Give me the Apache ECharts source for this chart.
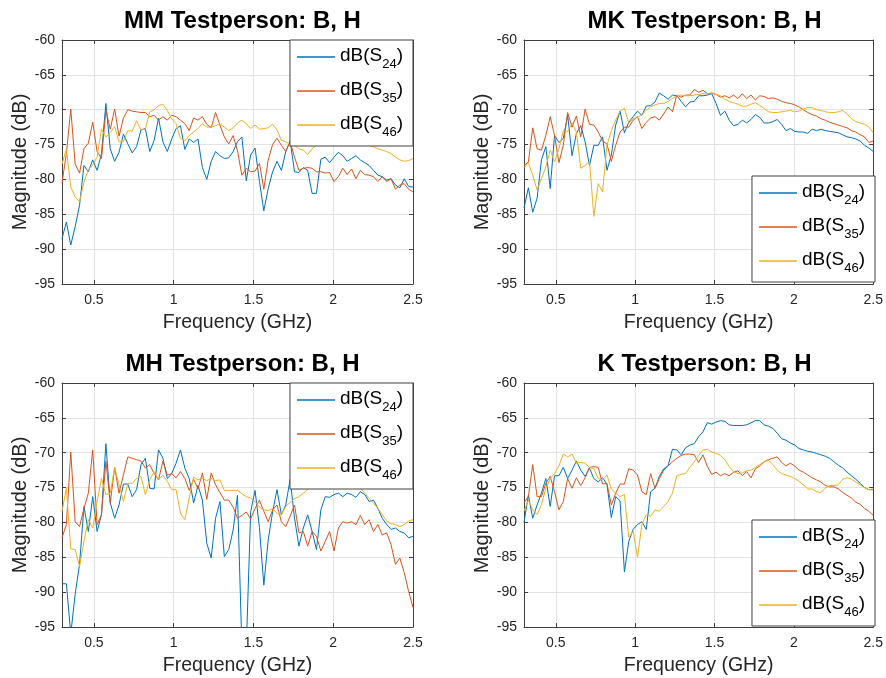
<!DOCTYPE html>
<html>
<head>
<meta charset="utf-8">
<script src="https://cdn.jsdelivr.net/npm/echarts@6/dist/echarts.min.js"></script>
<style>
  html, body { margin: 0; padding: 0; background: #fff; }
  #chart { width: 886px; height: 678px; }
</style>
</head>
<body>
<div id="chart"></div>
<script>
// Frequency sweep shared by all measurements (GHz)
const freqGHz = [
  0.3000, 0.3275, 0.3550, 0.3825, 0.4100, 0.4375, 0.4650, 0.4925, 0.5200, 0.5475,
  0.5750, 0.6025, 0.6300, 0.6575, 0.6850, 0.7125, 0.7400, 0.7675, 0.7950, 0.8225,
  0.8500, 0.8775, 0.9050, 0.9325, 0.9600, 0.9875, 1.0150, 1.0425, 1.0700, 1.0975,
  1.1250, 1.1525, 1.1800, 1.2075, 1.2350, 1.2625, 1.2900, 1.3175, 1.3450, 1.3725,
  1.4000, 1.4275, 1.4550, 1.4825, 1.5100, 1.5375, 1.5650, 1.5925, 1.6200, 1.6475,
  1.6750, 1.7025, 1.7300, 1.7575, 1.7850, 1.8125, 1.8400, 1.8675, 1.8950, 1.9225,
  1.9500, 1.9775, 2.0050, 2.0325, 2.0600, 2.0875, 2.1150, 2.1425, 2.1700, 2.1975,
  2.2250, 2.2525, 2.2800, 2.3075, 2.3350, 2.3625, 2.3900, 2.4175, 2.4450, 2.4725,
  2.5000
];

// MM test person, |S| in dB
const mmS24 = [
  -88.5, -86.1, -89.4, -86.8, -83.7, -78.0, -78.9, -77.2, -78.7, -76.3,
  -69.1, -75.6, -77.4, -76.1, -73.5, -74.9, -76.2, -75.3, -72.9, -72.7,
  -76.0, -74.4, -71.2, -74.6, -76.0, -74.2, -72.7, -72.3, -75.7, -74.2,
  -74.7, -74.2, -78.3, -80.0, -77.4, -76.0, -76.6, -77.0, -76.9, -76.0,
  -74.6, -73.9, -80.2, -76.5, -75.5, -80.3, -84.5, -81.3, -78.9, -77.4,
  -78.7, -76.0, -74.5, -78.9, -79.0, -78.3, -78.7, -82.0, -82.0, -77.1,
  -76.8, -77.6, -76.8, -76.1, -76.6, -77.4, -77.0, -76.6, -77.2, -77.6,
  -78.0, -78.7, -79.4, -79.6, -80.1, -79.9, -80.8, -81.2, -79.9, -81.0,
  -81.1
];
const mmS35 = [
  -80.5, -76.3, -69.9, -77.8, -79.1, -75.6, -74.8, -71.8, -76.0, -77.0,
  -70.1, -72.8, -69.9, -73.8, -71.2, -70.0, -70.2, -70.3, -70.4, -70.4,
  -71.0, -70.8, -71.5, -71.0, -71.5, -70.8, -71.0, -71.5, -72.0, -73.0,
  -71.2, -71.5, -71.0, -72.1, -72.6, -70.4, -72.2, -73.9, -74.9, -73.7,
  -75.9, -79.4, -78.4, -78.9, -78.8, -77.7, -81.4, -77.2, -75.0, -74.1,
  -75.1, -76.0, -74.6, -76.8, -78.7, -78.4, -78.3, -78.4, -78.9, -78.9,
  -79.1, -79.0, -80.3, -79.6, -78.4, -79.3, -78.5, -79.9, -78.7, -79.3,
  -79.4, -79.6, -80.3, -79.6, -80.3, -79.9, -81.4, -80.8, -80.6, -81.4,
  -81.8
];
const mmS46 = [
  -77.8, -75.6, -81.1, -82.5, -83.2, -80.4, -78.6, -77.9, -76.8, -72.8,
  -73.9, -73.3, -72.4, -74.6, -74.6, -73.0, -73.1, -71.6, -72.9, -72.8,
  -70.3, -70.0, -69.4, -69.2, -70.1, -71.3, -72.0, -74.1, -74.5, -73.7,
  -73.2, -72.7, -72.0, -72.5, -72.5, -72.3, -72.0, -72.5, -73.0, -72.6,
  -71.9, -71.5, -72.0, -72.7, -72.2, -72.8, -72.7, -72.6, -72.1, -72.9,
  -74.4, -74.6, -75.1, -75.1, -75.6, -75.8, -76.4, -75.6, -75.1, -74.6,
  -74.4, -75.1, -75.1, -74.6, -74.2, -74.6, -74.9, -74.5, -74.7, -74.9,
  -75.1, -75.3, -75.6, -75.8, -76.0, -76.3, -76.8, -77.2, -77.4, -77.3,
  -77.0
];

// MK test person
const mkS24 = [
  -84.1, -81.2, -84.7, -82.7, -77.2, -75.3, -81.3, -73.7, -74.7, -74.1,
  -70.8, -76.6, -73.4, -72.3, -74.6, -78.0, -75.1, -75.1, -73.9, -78.7,
  -76.5, -72.2, -70.2, -73.3, -71.8, -71.0, -70.2, -70.8, -69.5, -69.4,
  -68.9, -67.6, -68.0, -68.5, -67.9, -68.0, -68.8, -69.6, -68.9, -68.8,
  -68.0, -68.0, -67.9, -67.7, -69.1, -70.8, -70.2, -71.5, -72.3, -72.1,
  -71.5, -71.9, -71.4, -70.7, -71.1, -71.9, -71.9, -71.7, -71.4, -72.1,
  -73.0, -72.7, -73.1, -73.2, -73.2, -73.4, -72.8, -73.0, -72.8, -73.0,
  -73.1, -73.2, -73.3, -73.6, -73.9, -74.0, -74.2, -74.5, -75.1, -75.5,
  -76.0
];
const mkS35 = [
  -78.0, -77.5, -72.6, -75.6, -75.8, -73.7, -71.0, -73.7, -77.6, -75.1,
  -70.4, -72.5, -70.9, -73.9, -69.9, -72.1, -72.2, -73.2, -74.5, -74.9,
  -77.4, -75.1, -73.2, -72.5, -72.5, -71.5, -71.0, -72.7, -71.8, -71.2,
  -71.0, -71.5, -70.6, -69.6, -70.3, -67.9, -68.2, -67.9, -67.9, -67.1,
  -67.5, -67.2, -67.7, -67.6, -67.8, -68.2, -68.0, -68.3, -67.9, -68.4,
  -67.7, -68.4, -67.9, -68.6, -68.0, -68.1, -68.4, -68.3, -68.5, -68.8,
  -69.0, -69.1, -69.3, -69.6, -70.0, -70.4, -70.7, -70.9, -71.3, -71.5,
  -71.8, -72.0, -72.2, -72.4, -72.6, -73.0, -73.2, -73.6, -73.9, -74.7,
  -74.5
];
const mkS46 = [
  -78.3, -77.6, -79.4, -81.5, -79.9, -78.2, -75.8, -77.5, -75.6, -73.0,
  -73.2, -71.9, -73.2, -78.4, -78.0, -77.4, -85.3, -80.6, -81.8, -75.1,
  -73.0, -71.5, -70.2, -69.8, -71.9, -71.3, -71.1, -70.7, -70.1, -69.6,
  -69.3, -69.1, -69.1, -68.8, -68.4, -68.0, -67.9, -68.0, -68.0, -67.9,
  -67.8, -67.7, -67.7, -67.7, -67.8, -68.0, -68.5, -68.8, -69.0, -69.2,
  -69.5, -69.5, -69.2, -69.0, -69.4, -69.8, -70.3, -70.4, -70.4, -70.3,
  -70.2, -70.1, -70.3, -70.2, -69.9, -69.7, -69.7, -70.0, -70.1, -70.3,
  -70.4, -70.4, -70.3, -70.1, -70.6, -71.3, -71.7, -71.9, -72.1, -72.5,
  -73.3
];

// MH test person (values below -95 dB run off the axis)
const mhS24 = [
  -88.8, -88.8, -96.0, -90.3, -86.0, -77.7, -81.3, -76.3, -81.3, -78.9,
  -68.7, -77.2, -79.4, -77.5, -74.5, -74.5, -76.3, -75.3, -71.7, -70.8,
  -75.1, -75.2, -69.6, -70.8, -73.7, -73.0, -71.5, -69.6, -72.2, -73.7,
  -77.2, -74.7, -76.8, -83.0, -85.1, -79.4, -77.0, -84.9, -83.9, -81.1,
  -76.1, -98.0, -98.0, -78.5, -75.4, -80.7, -89.0, -82.5, -78.5, -75.3,
  -78.9, -77.5, -73.8, -79.4, -83.4, -80.8, -78.9, -81.3, -83.9, -78.2,
  -76.3, -76.4, -76.0, -75.8, -76.3, -75.8, -76.0, -76.4, -75.6, -76.0,
  -77.0, -76.8, -78.0, -79.4, -80.3, -81.0, -80.8, -81.3, -81.5, -82.2,
  -82.0
];
const mhS35 = [
  -82.2, -80.3, -69.9, -79.9, -80.6, -78.0, -75.8, -69.6, -80.3, -78.9,
  -71.2, -77.2, -72.1, -75.8, -73.2, -70.6, -70.8, -71.0, -71.2, -72.2,
  -71.7, -73.0, -73.9, -71.2, -73.2, -73.0, -73.6, -72.7, -73.7, -75.4,
  -73.8, -75.2, -72.9, -76.7, -72.9, -74.6, -75.7, -76.8, -76.8, -77.8,
  -79.4, -79.0, -78.5, -79.5, -78.0, -76.8, -78.4, -79.9, -78.2, -77.5,
  -79.9, -80.6, -79.1, -77.5, -81.5, -81.3, -83.4, -81.3, -82.0, -84.1,
  -82.7, -81.3, -84.1, -80.8, -79.9, -80.1, -79.9, -80.3, -79.0, -80.3,
  -79.6, -81.3, -80.3, -81.8, -81.5, -83.2, -86.0, -85.1, -87.2, -89.9,
  -92.2
];
const mhS46 = [
  -78.4, -75.1, -83.8, -83.9, -86.3, -82.7, -79.6, -80.8, -77.0, -73.7,
  -76.0, -75.8, -72.1, -74.6, -77.0, -74.4, -74.4, -73.7, -73.4, -76.0,
  -73.9, -72.7, -73.9, -73.2, -74.1, -75.3, -75.3, -78.7, -79.6, -76.5,
  -73.5, -73.9, -73.7, -74.0, -73.7, -74.0, -73.9, -75.4, -75.4, -75.4,
  -75.4, -75.9, -76.3, -76.5, -77.0, -77.8, -78.2, -78.3, -78.0, -78.7,
  -78.9, -77.7, -77.1, -76.6, -76.3, -75.8, -75.3, -74.6, -74.1, -73.9,
  -73.7, -73.8, -73.9, -73.7, -73.9, -74.1, -74.4, -74.6, -75.1, -75.8,
  -76.6, -77.2, -78.0, -78.9, -79.8, -80.2, -80.3, -80.6, -80.3, -79.8,
  -79.6
];

// K test person
const kS24 = [
  -80.0, -76.1, -79.4, -77.5, -75.8, -73.7, -77.7, -73.3, -73.3, -72.1,
  -73.7, -72.5, -71.2, -72.5, -73.4, -72.2, -73.7, -74.2, -73.6, -74.5,
  -79.3, -76.3, -76.9, -87.1, -82.7, -81.0, -80.3, -79.9, -81.0, -75.6,
  -75.1, -73.4, -72.3, -71.9, -69.5, -69.6, -70.3, -69.3, -68.9, -68.7,
  -67.7, -67.0, -65.7, -65.9, -65.6, -65.4, -65.5, -66.0, -66.1, -66.1,
  -66.1, -66.0, -65.7, -65.4, -65.4, -66.0, -66.2, -66.5, -67.2, -68.0,
  -68.2, -68.6, -68.9, -69.4, -69.6, -69.8, -69.9, -70.1, -70.3, -70.5,
  -70.8, -71.3, -71.8, -72.2, -72.8, -73.3, -73.8, -74.4, -75.0, -75.3,
  -75.3
];
const kS35 = [
  -77.2, -76.3, -71.7, -76.3, -76.3, -74.4, -73.4, -75.6, -78.2, -77.0,
  -73.7, -75.1, -73.6, -74.7, -73.6, -72.1, -72.0, -72.1, -74.5, -74.4,
  -77.5, -75.8, -74.5, -74.5, -72.3, -72.5, -73.2, -75.6, -76.0, -73.0,
  -75.1, -73.7, -72.5, -71.9, -71.3, -70.8, -70.4, -70.2, -70.2, -70.3,
  -71.4, -70.3, -72.0, -73.1, -72.8, -73.3, -73.0, -73.3, -72.8, -72.6,
  -73.3, -72.7, -73.6, -72.3, -71.9, -71.3, -71.0, -70.8, -70.6, -71.4,
  -71.9, -71.5, -71.9, -72.5, -72.8, -73.2, -73.6, -73.9, -74.2, -74.7,
  -74.9, -74.9, -75.2, -75.7, -76.1, -76.5, -77.1, -77.4, -78.0, -78.4,
  -79.0
];
const kS46 = [
  -78.4, -76.8, -78.2, -78.9, -77.4, -75.1, -73.7, -73.0, -71.9, -70.2,
  -70.6, -70.2, -71.5, -71.4, -71.5, -72.1, -72.3, -73.7, -73.9, -73.2,
  -75.2, -75.8, -76.3, -76.0, -82.1, -81.3, -85.0, -80.3, -78.9, -79.1,
  -78.2, -78.4, -77.7, -77.0, -75.8, -73.3, -73.1, -73.0, -72.1, -71.3,
  -70.4, -69.6, -69.5, -69.9, -70.1, -70.4, -71.0, -72.0, -72.7, -73.0,
  -72.9, -72.6, -72.5, -72.1, -71.7, -71.3, -71.1, -71.7, -72.5, -73.0,
  -73.2, -73.4, -73.7, -74.1, -74.6, -75.2, -75.2, -75.6, -75.7, -75.1,
  -74.7, -74.7, -74.6, -73.8, -73.6, -73.8, -74.2, -74.6, -75.0, -75.3,
  -75.2
];

const panelTitles = ['MM Testperson: B, H', 'MK Testperson: B, H', 'MH Testperson: B, H', 'K Testperson: B, H'];
const panelData = [[mmS24, mmS35, mmS46], [mkS24, mkS35, mkS46], [mhS24, mhS35, mhS46], [kS24, kS35, kS46]];
const portPairs = ['24', '35', '46'];
const xTickValues = [0.5, 1, 1.5, 2, 2.5];
const xRange = [0.3, 2.5];
const yRange = [-95, -60];
const xLabelText = 'Frequency (GHz)';
const yLabelText = 'Magnitude (dB)';

// Layout of the 2x2 subplots
const FONT = '"Liberation Sans", Arial, Helvetica, sans-serif';
const INK = '#262626';
const AXIS = '#404040';
const lineColors = ['#0072BD', '#D95319', '#EDB120'];
const panels = [
  { left: 62,  top: 40,  legend: { right: 473, top: 40 } },
  { left: 524, top: 40,  legend: { right: 11,  top: 176 } },
  { left: 62,  top: 383, legend: { right: 473, top: 383 } },
  { left: 524, top: 383, legend: { right: 11,  top: 520 } }
];
const PW = 351, PH = 244;

const seriesName = p => 'dB(S' + p + ')';

const option = {
  animation: false,
  backgroundColor: '#fff',
  textStyle: { fontFamily: FONT },
  title: [], grid: [], xAxis: [], yAxis: [], legend: [], series: []
};

panels.forEach((pn, i) => {
  option.title.push({
    text: panelTitles[i],
    left: pn.left + PW / 2,
    top: pn.top - 36,
    textAlign: 'center',
    textStyle: { fontFamily: FONT, fontSize: 24, fontWeight: 'bold', color: '#000' }
  });
  option.grid.push({ left: pn.left, top: pn.top, width: PW, height: PH, containLabel: false });

  const tick = { show: true, inside: true, length: 4, lineStyle: { color: AXIS, width: 1 } };
  const axLine = { show: true, lineStyle: { color: AXIS, width: 1 } };

  // bottom x axis with labels and grid lines
  option.xAxis.push({
    type: 'value', gridIndex: i, position: 'bottom', min: xRange[0], max: xRange[1],
    axisLine: axLine,
    axisTick: Object.assign({}, tick, { customValues: xTickValues }),
    axisLabel: { customValues: xTickValues, color: INK, fontSize: 14, margin: 9, fontFamily: FONT },
    splitLine: { show: true, lineStyle: { color: '#e3e3e3', width: 1 } },
    name: xLabelText, nameLocation: 'middle', nameGap: 29,
    nameTextStyle: { color: INK, fontSize: 19.5, fontFamily: FONT }
  });
  // top x axis: box edge with mirrored ticks
  option.xAxis.push({
    type: 'value', gridIndex: i, position: 'top', min: xRange[0], max: xRange[1],
    axisLine: axLine,
    axisTick: Object.assign({}, tick, { customValues: xTickValues }),
    axisLabel: { show: false }, splitLine: { show: false }
  });
  option.yAxis.push({
    type: 'value', gridIndex: i, position: 'left', min: yRange[0], max: yRange[1], interval: 5,
    axisLine: axLine, axisTick: tick,
    axisLabel: { color: INK, fontSize: 14, margin: 7, fontFamily: FONT },
    splitLine: { show: true, lineStyle: { color: '#e3e3e3', width: 1 } },
    name: yLabelText, nameLocation: 'middle', nameGap: 32,
    nameTextStyle: { color: INK, fontSize: 20, fontFamily: FONT }
  });
  option.yAxis.push({
    type: 'value', gridIndex: i, position: 'right', min: yRange[0], max: yRange[1], interval: 5,
    axisLine: axLine, axisTick: tick,
    axisLabel: { show: false }, splitLine: { show: false }
  });

  option.legend.push(Object.assign({
    orient: 'vertical',
    data: portPairs.map(seriesName),
    icon: 'rect', itemWidth: 38, itemHeight: 1.5, itemGap: 9,
    padding: [6, 10, 7, 7],
    backgroundColor: '#fff', borderColor: AXIS, borderWidth: 1, borderRadius: 0,
    selectedMode: false,
    formatter: name => {
      const p = name.slice(4, 6);
      return '{m|dB(S}{s|' + p + '}{m|)}';
    },
    textStyle: {
      rich: {
        m: { fontFamily: FONT, fontSize: 19, color: '#000', lineHeight: 22, verticalAlign: 'top' },
        s: { fontFamily: FONT, fontSize: 13, color: '#000', lineHeight: 16, padding: [12, 0, 0, 0], verticalAlign: 'top' }
      }
    },
    z: 10
  }, pn.legend));

  panelData[i].forEach((vals, s) => {
    option.series.push({
      name: seriesName(portPairs[s]),
      type: 'line',
      xAxisIndex: i * 2, yAxisIndex: i * 2,
      data: freqGHz.map((f, k) => [f, vals[k]]),
      showSymbol: false, symbol: 'none',
      clip: true,
      lineStyle: { color: lineColors[s], width: 1 },
      itemStyle: { color: lineColors[s] },
      z: 2 + s
    });
  });
});

const chart = echarts.init(document.getElementById('chart'), null, { renderer: 'canvas' });
chart.setOption(option);
</script>
</body>
</html>
